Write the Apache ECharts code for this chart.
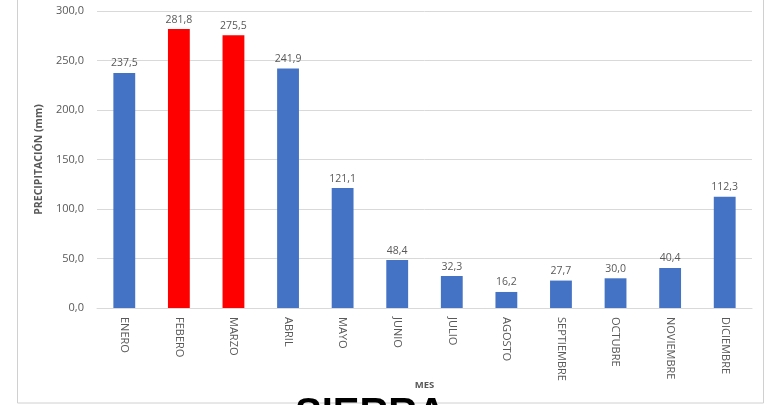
<!DOCTYPE html>
<html>
<head>
<meta charset="utf-8">
<script src="https://cdn.jsdelivr.net/npm/echarts@6/dist/echarts.min.js"></script>
<style>html,body{margin:0;padding:0;background:#fff;}#c{width:769px;height:405px;}</style>
</head>
<body>
<div id="c"></div>
<script>
var categories = ['ENERO','FEBERO','MARZO','ABRIL','MAYO','JUNIO','JULIO','AGOSTO','SEPTIEMBRE','OCTUBRE','NOVIEMBRE','DICIEMBRE'];
var precip = [237.5, 281.8, 275.5, 241.9, 121.1, 48.4, 32.3, 16.2, 27.7, 30.0, 40.4, 112.3];
var highlighted = ['FEBERO','MARZO'];
var yTicks = {min: 0, max: 300, interval: 50};

var FONT = '"Liberation Sans Narrow", "Open Sans", sans-serif';
var BLUE = '#4472C4', RED = '#FF0000';
var fmt = function (v) { return Number(v).toFixed(1).replace('.', ','); };

var chart = echarts.init(document.getElementById('c'), null, {renderer: 'canvas'});
chart.setOption({
  animation: false,
  backgroundColor: '#fff',
  grid: {left: 97, right: 17, top: 11, bottom: 97, containLabel: false},
  xAxis: {
    type: 'category',
    data: categories,
    name: 'MES',
    nameLocation: 'middle',
    nameGap: 72,
    nameMoveOverlap: false,
    nameTextStyle: {color: '#595959', fontSize: 9.5, fontWeight: 'bold', fontFamily: FONT},
    axisLine: {lineStyle: {color: '#d9d9d9'}},
    axisTick: {show: false},
    axisLabel: {rotate: -90, color: '#595959', fontSize: 11, fontFamily: FONT, margin: 9, interval: 0}
  },
  yAxis: {
    type: 'value',
    min: yTicks.min, max: yTicks.max, interval: yTicks.interval,
    name: 'PRECIPITACIÓN (mm)',
    nameLocation: 'middle',
    nameRotate: 90,
    nameGap: 52,
    nameMoveOverlap: false,
    nameTextStyle: {color: '#595959', fontSize: 10.5, fontWeight: 'bold', fontFamily: FONT},
    axisLine: {show: false},
    axisTick: {show: false},
    splitLine: {lineStyle: {color: '#d9d9d9'}},
    axisLabel: {color: '#595959', fontSize: 11, fontFamily: FONT, margin: 13, formatter: fmt}
  },
  series: [{
    type: 'bar',
    barWidth: '40%',
    data: precip.map(function (v, i) {
      return {value: v, itemStyle: {color: highlighted.indexOf(categories[i]) >= 0 ? RED : BLUE}};
    }),
    label: {show: true, position: 'top', distance: 4, color: '#595959', fontSize: 10.5, fontFamily: FONT,
      formatter: function (p) { return fmt(p.value); }}
  }],
  graphic: [
    {type: 'rect', shape: {x: 17.5, y: -5, width: 746, height: 408}, style: {fill: 'none', stroke: '#d0d0d0', lineWidth: 1}, z: -1},
    {type: 'text', left: 295, top: 395, style: {text: 'SIERRA', fill: '#000', font: 'bold 40px "Liberation Sans", Arial, sans-serif'}}
  ]
});
</script>
</body>
</html>
